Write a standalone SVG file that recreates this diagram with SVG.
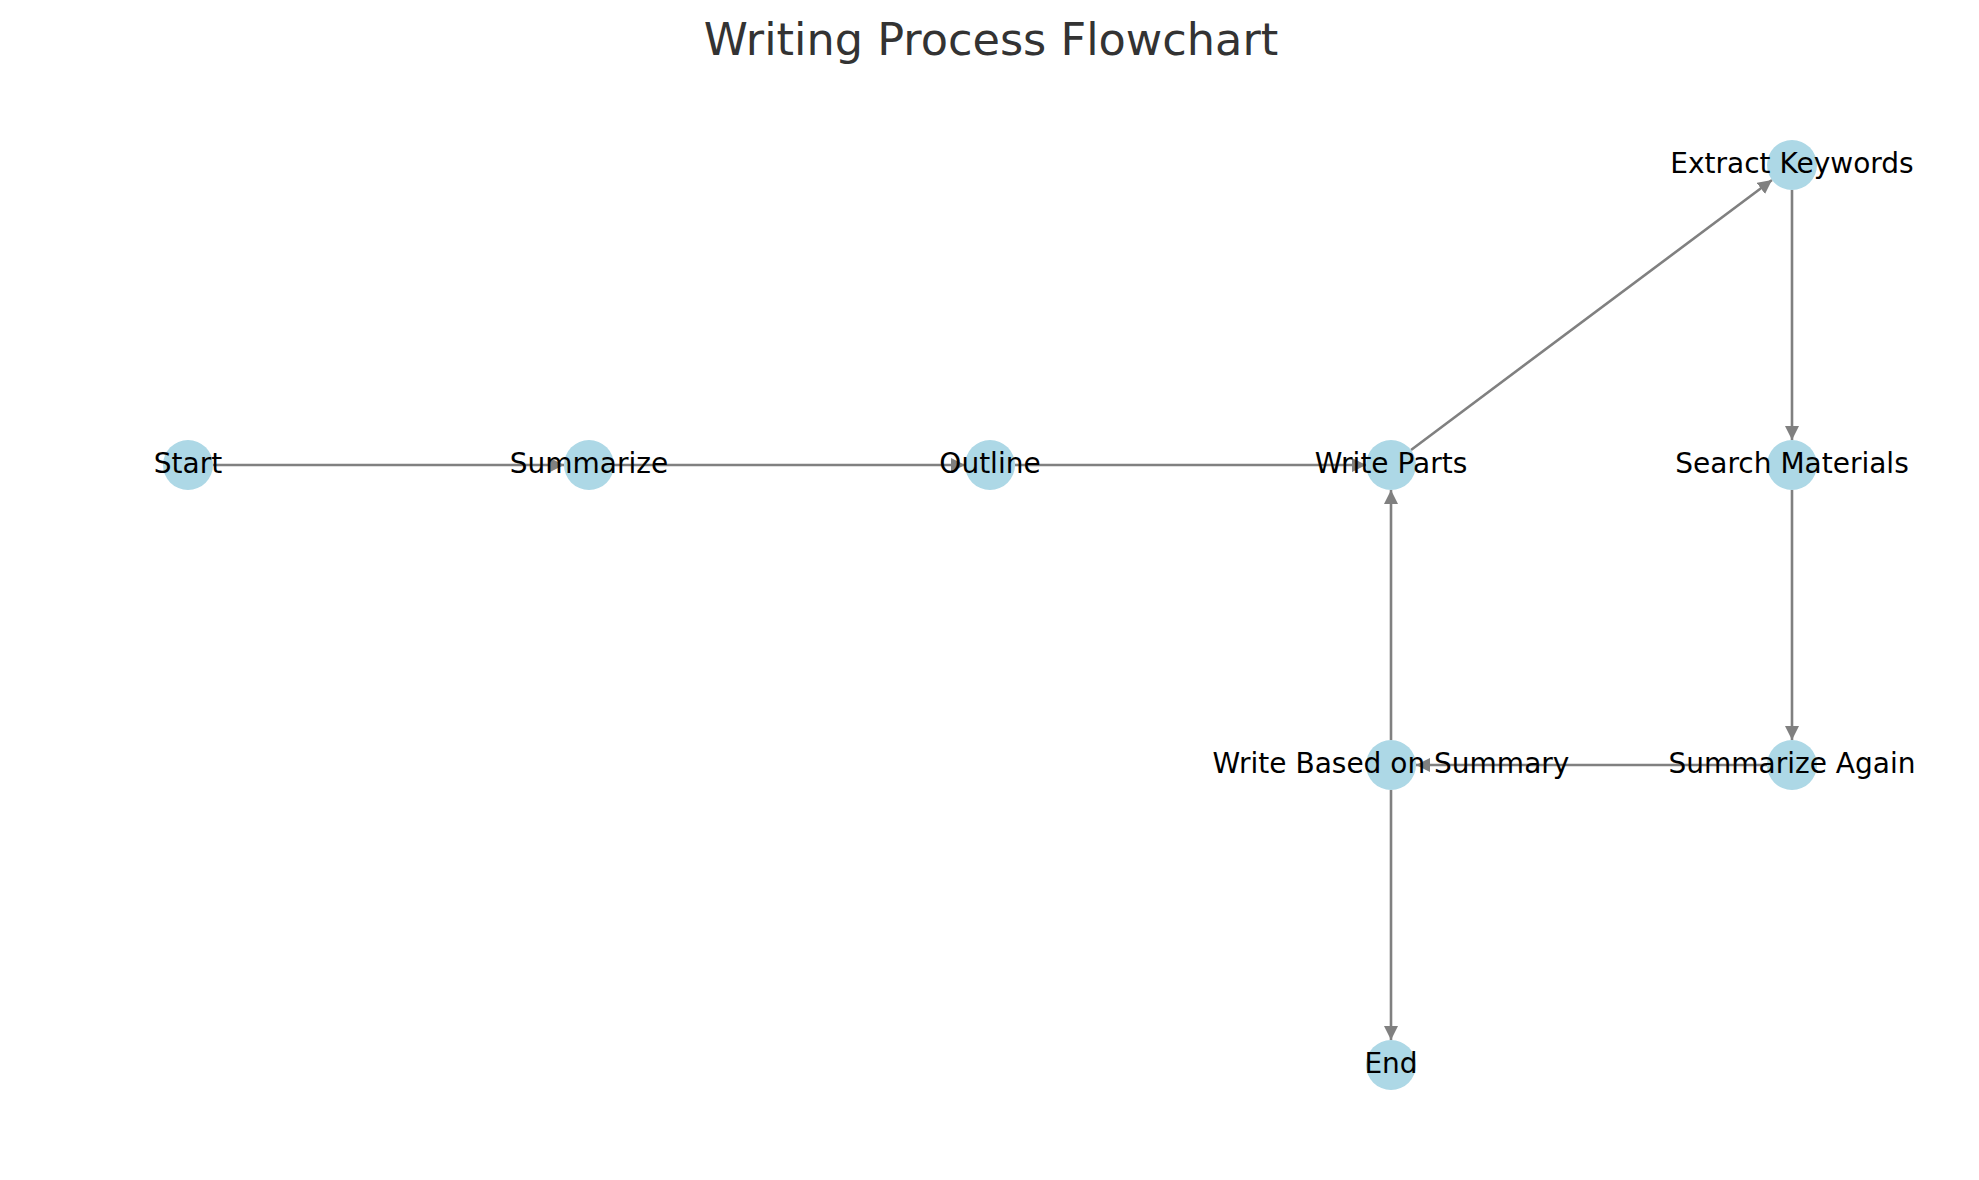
<svg xmlns="http://www.w3.org/2000/svg" width="1979" height="1180" viewBox="0 0 1979 1180">
<style>
.node{fill:#ADD8E6;}
.lbl{font-family:"DejaVu Sans",sans-serif;font-size:28px;fill:#000;text-anchor:middle;}
.edge{stroke:#808080;stroke-width:2.6;fill:none;marker-end:url(#arr);}
.title{font-family:"DejaVu Sans",sans-serif;font-size:44.6px;fill:#333333;text-anchor:middle;}
</style>
<defs>
<marker id="arr" markerUnits="userSpaceOnUse" markerWidth="15" markerHeight="15" refX="14" refY="7" orient="auto" viewBox="0 0 15 15">
<path d="M0,0 L14,7 L0,14 Z" fill="#808080"/>
</marker>
</defs>
<rect width="1979" height="1180" fill="#ffffff"/>
<text class="title" x="991" y="55">Writing Process Flowchart</text>
<g id="edges">
<line class="edge" x1="213" y1="465" x2="564" y2="465"/>
<line class="edge" x1="614" y1="465" x2="965" y2="465"/>
<line class="edge" x1="1015" y1="465" x2="1366" y2="465"/>
<line class="edge" x1="1411" y1="450" x2="1772" y2="180"/>
<line class="edge" x1="1792" y1="190" x2="1792" y2="440"/>
<line class="edge" x1="1792" y1="490" x2="1792" y2="740"/>
<line class="edge" x1="1767" y1="765" x2="1416" y2="765"/>
<line class="edge" x1="1391" y1="740" x2="1391" y2="490"/>
<line class="edge" x1="1391" y1="790" x2="1391" y2="1040"/>
</g>
<g id="node-start"><circle class="node" cx="188" cy="465" r="25"/></g>
<g id="node-summarize"><circle class="node" cx="589" cy="465" r="25"/></g>
<g id="node-outline"><circle class="node" cx="990" cy="465" r="25"/></g>
<g id="node-write-parts"><circle class="node" cx="1391" cy="465" r="25"/></g>
<g id="node-extract-keywords"><circle class="node" cx="1792" cy="165" r="25"/></g>
<g id="node-search-materials"><circle class="node" cx="1792" cy="465" r="25"/></g>
<g id="node-summarize-again"><circle class="node" cx="1792" cy="765" r="25"/></g>
<g id="node-write-based"><circle class="node" cx="1391" cy="765" r="25"/></g>
<g id="node-end"><circle class="node" cx="1391" cy="1065" r="25"/></g>
<g id="labels">
<text class="lbl" x="188" y="473">Start</text>
<text class="lbl" x="589" y="473">Summarize</text>
<text class="lbl" x="990" y="473">Outline</text>
<text class="lbl" x="1391" y="473">Write Parts</text>
<text class="lbl" x="1792" y="173">Extract Keywords</text>
<text class="lbl" x="1792" y="473">Search Materials</text>
<text class="lbl" x="1792" y="773">Summarize Again</text>
<text class="lbl" x="1391" y="773">Write Based on Summary</text>
<text class="lbl" x="1391" y="1073">End</text>
</g>
</svg>
